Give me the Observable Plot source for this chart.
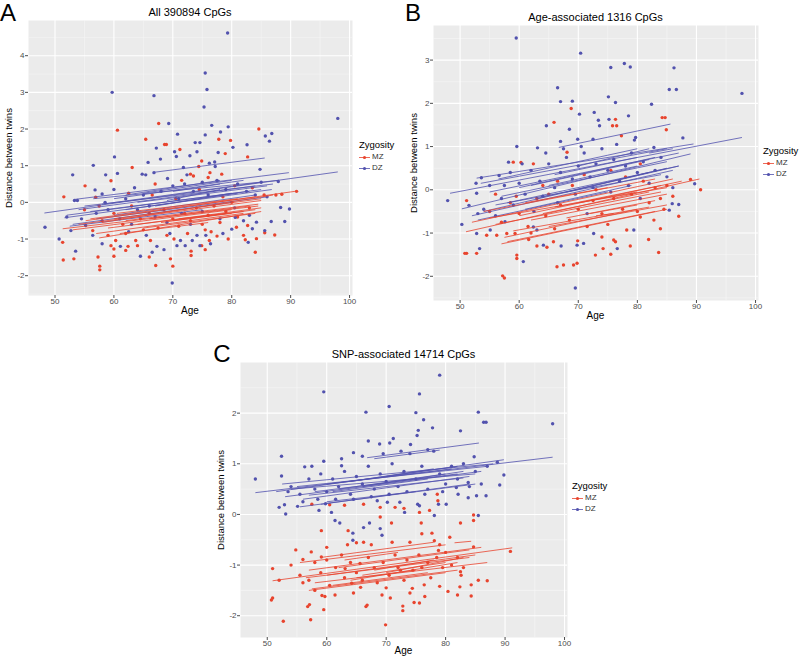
<!DOCTYPE html>
<html><head><meta charset="utf-8">
<script src="https://cdn.jsdelivr.net/npm/d3@7"></script>
<script src="https://cdn.jsdelivr.net/npm/@observablehq/plot@0.6"></script>
<style>
body{margin:0;background:#fff;font-family:Arial,"Liberation Sans",sans-serif;}
#root{position:relative;width:800px;height:657px;overflow:hidden;background:#fff;}
.t{position:absolute;white-space:nowrap;color:#000;line-height:1;}
.p{position:absolute;}
</style></head>
<body><div id="root"></div>
<script>
// ---------- shared tick values ----------
const xTicks = [50, 60, 70, 80, 90, 100];
const xMinor = [55, 65, 75, 85, 95];
const zygosity = ["MZ", "DZ"];

// ---------- Panel A: All 390894 CpGs ----------
const aDZ = [[79.3,4.62],[75.5,3.53],[75.8,3.08],[59.7,3.0],[66.8,2.91],[75.3,2.6],[98,2.29],[69.3,2.15],[76.6,2.1],[79.4,2.06],[78.1,1.92],[85.7,1.81],[86.8,1.88],[86.4,1.67],[70.8,1.86],[75.5,1.84],[73.8,1.63],[74.6,1.63],[82.6,1.57],[67.2,1.48],[74.1,1.38],[70.3,1.38],[77.7,1.36],[80.2,1.5],[70.6,1.25],[72.9,1.27],[60.1,1.24],[65.8,1.09],[67.9,1.18],[76.2,1.07],[56.5,1.01],[77.1,1.1],[77.2,0.98],[71.8,0.95],[66.8,0.81],[60.6,0.79],[53,0.75],[58.6,0.75],[64.8,0.77],[65.4,0.75],[72.4,0.75],[69.1,0.65],[84.8,0.9],[87.9,0.57],[89.8,-0.18],[89,-0.52],[88.3,-0.14],[86.7,-0.52],[85.6,-0.77],[84.2,-0.54],[82.8,-1.09],[83.5,-0.72],[80.6,-0.41],[80,-0.73],[76.4,-1.13],[74.6,-1.18],[75.6,-0.9],[74.1,-0.9],[73.3,-1.04],[72.1,-1.18],[71.3,-1.04],[70.7,-1.18],[69.9,-2.2],[68.5,-1.29],[67.3,-1.2],[66.5,-1.36],[64.5,-1.47],[61.1,-1.2],[58,-1.13],[56.4,-0.9],[55.2,-0.63],[53.5,-1.33],[50.7,-1.0],[48.3,-0.68],[52.7,-0.77],[53.3,0.05],[53.8,0.05],[56.8,0.34],[58,0.23],
[60,0.35],[62,0.1],[63.5,0.4],[65,0.2],[66,-0.1],[68,0.3],[70,0.45],[71,0.1],[72,0.5],[73.5,0.3],[75,0.55],[76,0.2],[77.5,0.6],[79,0.35],[81,0.5],[82.5,0.3],[84,0.2],[85,0.55],[86,0.15],[57,-0.3],[59,-0.2],[61,-0.45],[63,-0.6],[64,-0.2],[67,-0.4],[69,-0.55],[71.5,-0.3],[73,-0.6],[75,-0.25],[78,-0.45],[80.5,-0.15],[82,-0.5],[54.5,-0.45],[52,-0.4],[58.5,0.0],[62.5,-0.8],[65.5,-0.9],[69.5,-0.85],[78.5,-0.85],[83,-0.35]];
const aMZ = [[60.6,1.97],[67.6,2.15],[84.6,2.0],[65.4,1.72],[77.8,1.72],[79.8,1.69],[68.6,1.58],[68.9,1.58],[71.2,1.44],[78.9,1.33],[82.7,1.24],[74.9,1.13],[74.4,0.98],[63.1,0.95],[73,0.77],[73.5,0.72],[76.3,0.81],[78.3,0.77],[76,0.68],[59.5,0.59],[55.1,0.45],[87.3,-0.89],[85.6,-0.83],[84.2,-0.99],[84,-1.36],[82.7,-0.63],[82.3,-1.02],[82,-0.9],[80.8,-0.68],[79.4,-1.0],[77.5,-0.92],[76.2,-1.04],[75.5,-1.29],[74.9,-1.18],[73.1,-1.33],[73.1,-1.45],[70.2,-1.0],[69.6,-1.54],[70,-1.74],[67.1,-1.72],[66.2,-1.04],[66,-1.49],[64,-1.18],[63.7,-1.04],[62.4,-1.2],[62,-1.31],[60,-1.47],[60,-1.27],[59.5,-1.18],[60.3,-1.04],[57.6,-1.74],[57.6,-1.84],[57.3,-1.49],[56.4,-0.77],[53.2,-1.54],[51.4,-1.57],[51.3,-1.09],[51.5,0.15],[56.9,0.14],[91,0.3],[85.5,0.2],[87.5,0.2],[88.5,0.22],
[55,-0.2],[58,-0.5],[60,-0.3],[61.5,-0.6],[63,-0.1],[64.5,-0.45],[66,-0.3],[67.5,-0.7],[68.5,-0.2],[70,-0.45],[71,-0.65],[72,-0.3],[73,-0.5],[74,-0.15],[75,-0.6],[76,-0.35],[77,-0.1],[78,-0.55],[79,-0.25],[80,0.0],[81,-0.4],[83,-0.15],[62,-0.85],[65,-0.75],[69,-0.9],[72.5,-0.85],[75.5,-0.75],[59,-0.9],[66.5,0.2],[70.5,0.1],[74.5,0.35],[78.5,0.15],[62.5,0.25],[57.5,-0.1],[67,0.5],[71.5,0.6],[80.5,0.45],[83.5,0.4],[76.5,-0.8]];
const aDZLines = [[48.2,-0.29,98.0,0.83],[66.8,0.82,85.6,1.21],[53.3,0.08,89.7,0.81],[56.5,0.1,88.0,0.6],[51.6,-0.42,86.8,0.35],[52.0,-0.35,85.0,0.35],[54.0,-0.2,84.0,0.45],[55.0,-0.1,87.0,0.5],[56.0,-0.25,83.0,0.3],[58.0,-0.05,85.0,0.55],[60.0,0.1,82.0,0.6],[62.0,0.2,78.0,0.6],[65.0,0.25,80.0,0.6],[53.0,-0.6,80.0,0.0],[57.0,-0.45,86.0,0.15],[60.0,-0.35,84.0,0.2],[62.0,-0.2,81.0,0.25],[64.0,0.0,86.0,0.45],[67.0,-0.1,80.0,0.25],[69.0,0.05,78.0,0.35],[70.0,0.3,78.0,0.5],[52.5,-0.65,75.0,-0.2]];
const aMZLines = [[51.3,-0.72,84.5,-0.1],[55.2,-0.5,90.7,0.3],[57.5,-0.97,85.0,-0.25],[57.0,-0.85,82.0,-0.3],[54.0,-0.6,85.0,0.05],[56.0,-0.45,84.0,0.15],[53.0,-0.75,80.0,-0.2],[58.0,-0.55,87.0,0.2],[60.0,-0.45,85.0,0.1],[62.0,-0.5,84.5,-0.05],[64.0,-0.6,85.0,-0.15],[66.0,-0.45,83.0,-0.1],[68.0,-0.55,84.0,-0.2],[70.0,-0.5,80.0,-0.3],[71.0,-0.45,82.0,-0.25],[59.0,-0.7,79.0,-0.3],[61.0,-0.85,76.0,-0.55],[65.0,-0.7,84.0,-0.3],[60.5,-0.3,81.0,0.1]];
const aYTicks = [-2, -1, 0, 1, 2, 3, 4];
const aYMinor = [-2.5, -1.5, -0.5, 0.5, 1.5, 2.5, 3.5, 4.5];

// ---------- Panel B: Age-associated 1316 CpGs ----------
const bDZ = [[59.5,3.51],[70.4,3.16],[77.8,2.92],[78.8,2.84],[75.5,2.83],[86.2,2.82],[97.7,2.23],[66.5,2.36],[85.4,2.32],[86.6,2.32],[75.1,2.15],[67,2.04],[69,2.05],[76.3,2.02],[82.4,1.98],[70.2,1.75],[72.7,1.79],[73.4,1.61],[75.2,1.63],[78.5,1.71],[73.6,1.48],[64.6,1.48],[68.5,1.4],[59.6,1.0],[63.1,0.97],[67,1.12],[69.9,1.17],[72.5,1.17],[79.7,1.21],[82.8,0.98],[87.7,1.2],[58.2,0.64],[53.6,0.28],[56.6,0.33],[52.7,0.15],[52.8,-0.08],[47.9,-0.25],[50.3,-0.8],[51.5,-0.36],[52.8,-1.01],[53.3,-1.36],[55.1,-0.93],[57.6,-0.74],[62.4,-0.86],[63,-0.93],[64.1,-1.28],[60.7,-1.66],[67.1,-1.3],[69.8,-1.28],[70.9,-1.24],[79.4,-0.93],[85.9,-0.32],[87,-0.34],[85.4,-0.47],[89.7,0.14],[69.5,-2.27],[76.6,-1.36],[71.5,-0.55],[72.6,-1.01],
[55,0.1],[57,-0.2],[58.5,0.4],[60,0.15],[61,-0.1],[62,0.45],[63.5,0.2],[65,0.6],[66,0.05],[67,0.4],[68,0.75],[69,0.25],[70,0.55],[71,0.85],[72,0.3],[73,0.6],[74,0.95],[75,0.45],[76,0.7],[77,0.2],[78,0.55],[79,0.85],[80,0.4],[81,0.65],[82,0.15],[83,0.45],[84,0.75],[85,0.3],[86,0.05],[54,-0.45],[56,-0.6],[59,-0.35],[62.5,-0.5],[64,-0.15],[66.5,-0.3],[69.5,-0.1],[72.5,0.05],[75.5,-0.05],[78.5,0.1],[80.5,-0.2],[53,-0.55],[57.5,0.1],[60.5,0.6],[64.5,0.85],[67.5,0.95],[70.5,1.0],[76.5,1.05],[79.5,1.15]];
const bMZ = [[59.0,0.64],[60.3,0.63],[65.9,1.56],[68.8,1.88],[76.3,1.63],[75.8,1.48],[76.5,1.48],[77.3,1.25],[84.2,1.67],[84.7,1.67],[84.9,1.39],[68.1,0.87],[62.4,0.6],[51.1,-0.25],[50.8,-1.47],[51.1,-1.47],[52.8,-1.47],[59.6,-1.51],[59.6,-1.59],[57.2,-1.99],[57.5,-2.04],[54.5,-1.05],[56.2,-1.05],[57.9,-1.01],[59.3,-1.01],[61.6,-1.15],[63,-1.3],[64.7,-1.33],[65.8,-1.2],[66.4,-1.78],[67.5,-1.74],[69.2,-1.74],[69.8,-1.7],[69.9,-1.18],[72.9,-1.51],[74.0,-1.09],[74.2,-1.36],[75.5,-1.49],[76,-1.16],[76.3,-1.2],[78.2,-0.93],[78.8,-1.3],[80.5,-0.63],[81.9,-1.15],[83.6,-1.45],[83.9,-0.9],[82.8,-0.7],[87,-0.61],[90.7,0.0],[89,0.24],[85,0.1],[83.9,-0.2],
[55,-0.5],[57,-0.75],[58.5,-0.3],[60,-0.55],[61.5,-0.85],[63,-0.2],[64.5,-0.6],[66,-0.9],[67,-0.35],[68.5,-0.7],[70,-0.45],[71.5,-0.85],[72.5,-0.25],[74,-0.55],[75,-0.8],[76,-0.2],[77.5,-0.45],[79,-0.1],[80,-0.5],[81,0.2],[82,-0.3],[83,0.05],[84.5,-0.45],[86,-0.15],[62,-1.0],[65,-0.1],[69,0.1],[73,0.0],[78,0.3],[80.5,0.6],[56,-0.1],[59.5,-0.15],[66.5,0.2],[71,0.35],[75.5,0.45],[64,0.1]];
const bDZLines = [[48.3,-0.08,97.7,1.21],[66.7,0.98,85.6,1.52],[52.8,0.27,89.5,1.06],[50.3,-0.44,89.0,0.83],[53.5,0.15,85.0,0.95],[55.0,-0.05,87.0,0.85],[56.5,0.25,80.0,0.95],[52.0,-0.6,86.0,0.45],[54.0,-0.5,87.0,0.55],[57.0,-0.15,85.0,0.65],[60.0,0.05,83.0,0.75],[62.0,0.1,82.0,0.7],[56.0,-0.35,84.0,0.35],[58.0,-0.3,87.0,0.55],[63.0,-0.2,82.0,0.4],[65.0,0.1,80.0,0.55],[68.0,-0.05,85.0,0.5],[53.0,-0.7,75.0,-0.05],[61.0,-0.45,79.0,0.1],[66.0,0.35,80.0,0.75],[70.0,0.55,82.0,0.95],[82.0,0.85,86.0,0.95]];
const bMZLines = [[51.0,-0.97,90.5,0.25],[52.0,-0.75,86.0,0.25],[55.0,-0.65,85.0,0.05],[57.0,-1.25,85.0,-0.45],[58.0,-1.2,83.0,-0.5],[57.5,-1.1,80.0,-0.45],[54.0,-0.5,83.0,0.25],[56.0,-0.8,84.0,-0.05],[60.0,-0.6,87.5,0.2],[62.0,-0.7,85.0,-0.1],[64.0,-0.55,82.0,-0.05],[66.0,-0.4,84.0,0.1],[68.0,-0.65,83.0,-0.25],[70.0,-0.3,80.0,-0.05],[72.0,-0.55,80.0,-0.35],[59.0,-0.95,82.0,-0.4],[61.0,-0.3,75.0,0.05],[65.0,-0.85,85.0,-0.35],[73.0,-0.6,76.0,-0.55]];
const bYTicks = [-2, -1, 0, 1, 2, 3];
const bYMinor = [-2.5, -1.5, -0.5, 0.5, 1.5, 2.5, 3.5];

// ---------- Panel C: SNP-associated 14714 CpGs ----------
const cDZ = [[79,2.75],[59.5,2.42],[75.6,2.38],[70.5,2.13],[66.6,2.02],[75,2.01],[85.5,2.02],[98,1.79],[86.4,1.82],[86.8,1.82],[76.3,1.87],[75.4,1.66],[77.8,1.71],[75.2,1.56],[82.5,1.65],[71.2,1.5],[70.6,1.41],[68.9,1.39],[74.1,1.38],[52.4,1.15],[67,1.45],[64.5,1.22],[84.8,1.14],[88.7,1.03],[89.8,0.78],[89.1,0.58],[48,0.7],[52.4,0.76],[56.3,0.94],[62.5,0.96],[52,0.14],[53.1,0.01],[52.9,0.19],[55.1,0.16],[58.7,0.08],[59.8,0.21],[60.8,0.04],[61.4,-0.12],[62.2,-0.17],[64.4,-0.37],[64.4,-0.51],[66.2,-0.26],[67.2,-0.17],[69,-0.28],[69.3,-0.41],[68.5,0.27],[70.2,0.24],[72.3,0.24],[73.1,0.04],[75.3,0.2],[75.6,0.17],[78.1,-0.02],[78.8,0.2],[80.1,0.2],[82.1,0.4],[83.8,0.33],[85.2,0.37],[85.5,-0.02],[86.8,0.37],[83.8,0.63],[81.8,0.53],
[54,0.55],[55.5,0.4],[57,0.7],[58,0.5],[59,0.8],[60,0.45],[61,0.7],[62,0.55],[63,0.85],[64,0.4],[65,0.75],[66,0.6],[67,0.95],[68,0.5],[69,0.8],[70,0.65],[71,1.0],[72,0.55],[73,0.85],[74,1.2],[75,0.7],[76,0.95],[77,0.5],[78,1.25],[79,0.8],[80,0.6],[81,0.95],[82,0.7],[83,1.0],[84,0.55],[85,0.85],[86,0.6],[87,0.95],[56,0.25],[58.5,0.3],[61.5,0.3],[64.5,0.3],[67.5,0.35],[70.5,0.4],[73.5,0.45],[76.5,0.4],[79.5,0.45],[62.5,1.1],[66,1.15],[69.5,1.2],[72.5,1.25],[77,1.28],[59.5,1.05],[57.5,0.95],[53.5,0.45]];
const cMZ = [[90.9,-0.73],[50.9,-1.07],[50.9,-1.65],[50.7,-1.69],[52.7,-2.11],[54.8,-0.7],[56,-1.35],[56.8,-1.82],[57.1,-1.78],[57.3,-2.08],[59.1,-0.32],[59.2,-1.6],[59.7,-1.62],[59.5,-1.88],[61.4,-1.59],[56,-0.89],[57.4,-0.74],[59.1,-0.84],[63.6,-0.32],[63.1,-1.07],[65,-0.56],[66.2,-0.55],[64.2,-1.36],[65.7,-1.44],[66.6,-1.82],[65.6,-0.97],[66.8,-1.79],[69,0.14],[69,-0.05],[70.9,-0.17],[69.3,-1.59],[69.9,-2.18],[70.7,-1.65],[72.4,-1.1],[72.8,-1.81],[72.8,-1.9],[74.4,-1.46],[75.6,0.04],[75.9,-0.17],[76,-0.38],[76.4,-1.39],[77.3,0.08],[77.7,-0.37],[78.1,-0.52],[78.8,-0.71],[78.6,0.4],[76.5,-1.62],[75.6,-1.75],[74.7,-1.74],[79,-1.42],[80.7,-0.45],[80.4,-1.52],[82,-1.59],[82.4,-1.43],[82.5,-1.13],[82.6,-1.2],[82.5,-0.17],[84.3,-1.61],[84.3,-1.39],[84.7,-0.01],[84.7,-0.12],[84.7,-0.64],[85.5,-1.3],[87,-1.31],
[57.5,0.2],[60.5,0.19],[63,0.18],[66.2,0.2],[71.5,0.14],[73,0.12],[78.7,0.27],
[52,-1.3],[54,-1.0],[55.5,-1.2],[57,-1.3],[58,-0.95],[59,-1.15],[60,-0.9],[60.5,-1.4],[61.5,-1.05],[62.5,-0.8],[63,-1.25],[64,-0.95],[65,-1.15],[66,-1.3],[67,-0.85],[68,-1.05],[68.5,-1.35],[69.5,-0.95],[70.5,-1.2],[71.5,-0.8],[72,-1.05],[73,-1.3],[73.5,-0.9],[74.5,-1.1],[75.5,-0.8],[76,-1.05],[77,-0.95],[77.5,-1.25],[78.5,-0.85],[79.5,-1.05],[80,-0.75],[81,-1.0],[82,-0.85],[83,-1.05],[60,-0.65],[63.5,-0.6],[67.5,-0.6],[71,-0.55],[74,-0.55],[79,-0.6],[70,-1.45],[74,-1.55],[58,-1.5],[64.5,-1.55]];
const cDZLines = [[48.0,0.43,98.0,1.13],[66.8,1.12,85.6,1.41],[68.0,1.1,79.0,1.27],[51.5,0.45,89.8,1.08],[52.5,0.6,88.0,1.0],[55.0,0.55,87.0,0.95],[53.0,0.35,86.0,0.85],[54.0,0.5,85.0,0.8],[56.0,0.3,84.0,0.75],[55.5,0.15,85.0,0.6],[58.0,0.45,82.0,0.8],[60.0,0.6,81.0,0.9],[57.0,0.38,83.0,0.72],[62.0,0.5,80.0,0.8],[59.0,0.2,84.0,0.6],[64.0,0.65,78.0,0.9],[61.0,0.45,77.0,0.7],[66.0,0.55,83.0,0.85],[70.0,0.75,82.0,0.95],[60.0,0.25,75.0,0.45]];
const cMZLines = [[50.9,-1.31,91.2,-0.66],[55.5,-0.95,80.0,-0.6],[57.0,-1.1,86.0,-0.65],[56.5,-1.25,84.0,-0.85],[58.0,-1.35,87.0,-0.95],[57.5,-1.47,82.0,-1.1],[57.0,-1.5,80.0,-1.15],[59.0,-0.85,78.0,-0.55],[60.0,-1.2,85.0,-0.8],[62.0,-1.05,84.0,-0.7],[64.0,-1.3,82.0,-0.95],[65.0,-1.25,75.0,-1.1],[66.0,-1.2,80.0,-0.95],[68.0,-1.1,78.0,-0.9],[70.0,-1.15,83.0,-0.85],[61.0,-1.4,77.0,-1.15],[81.5,-0.56,84.3,-0.53],[63.0,-0.9,72.0,-0.75]];
const cYTicks = [-2, -1, 0, 1, 2];
const cYMinor = [-1.5, -0.5, 0.5, 1.5, 2.5];

// ---------- styling ----------
const RED = "#e8442e", BLUE = "#5252ae";
const root = document.getElementById("root");

function text(s, x, y, css, rot) {
  const d = document.createElement("div");
  d.className = "t";
  d.textContent = s;
  d.style.left = x + "px";
  d.style.top = y + "px";
  d.style.transform = "translate(-50%,-50%)" + (rot ? " rotate(" + rot + "deg)" : "");
  Object.assign(d.style, css || {});
  root.appendChild(d);
}

const pts = arr => arr.map(([age, d]) => ({age, d}));
const segs = arr => arr.map(([x1, y1, x2, y2]) => ({x1, y1, x2, y2}));

function panel(p) {
  const plot = Plot.plot({
    width: p.w, height: p.h,
    marginLeft: p.ml, marginRight: p.mr, marginTop: p.mt, marginBottom: p.mb,
    x: {domain: p.xd},
    y: {domain: p.yd},
    style: {fontFamily: "Arial, 'Liberation Sans', sans-serif", fontSize: "8px", background: "transparent", overflow: "visible"},
    marks: [
      Plot.frame({fill: "#ebebeb", stroke: null}),
      Plot.ruleX(xMinor, {stroke: "#f6f6f6", strokeWidth: 0.6}),
      Plot.ruleY(p.yMinor, {stroke: "#f6f6f6", strokeWidth: 0.6, clip: true}),
      Plot.ruleX(xTicks, {stroke: "#ffffff", strokeWidth: 1.1}),
      Plot.ruleY(p.yTicks, {stroke: "#ffffff", strokeWidth: 1.1}),
      Plot.dot(pts(p.mz), {x: "age", y: "d", r: 1.7, fill: RED, clip: true}),
      Plot.dot(pts(p.dz), {x: "age", y: "d", r: 1.7, fill: BLUE, clip: true}),
      Plot.link(segs(p.dzL), {x1: "x1", y1: "y1", x2: "x2", y2: "y2", stroke: BLUE, strokeWidth: 0.8, clip: true}),
      Plot.link(segs(p.mzL), {x1: "x1", y1: "y1", x2: "x2", y2: "y2", stroke: RED, strokeWidth: 0.8, clip: true}),
      Plot.axisX({ticks: xTicks, tickSize: 3, tickPadding: 0, label: null, tickFormat: d => String(d), color: "#4d4d4d"}),
      Plot.axisY({ticks: p.yTicks, tickSize: 3, tickPadding: 1, label: null, tickFormat: d => String(d), color: "#4d4d4d"})
    ]
  });
  plot.classList.add("p");
  plot.style.left = p.left + "px";
  plot.style.top = p.top + "px";
  root.appendChild(plot);

  const fx0 = p.left + p.ml, fx1 = p.left + p.w - p.mr;
  const fy0 = p.top + p.mt, fy1 = p.top + p.h - p.mb;
  const cx = (fx0 + fx1) / 2, cy = (fy0 + fy1) / 2;
  text(p.title, cx, fy0 - 8, {fontSize: "11px"});
  text(p.letter, p.lx, p.ly, {fontSize: "24px"});
  text("Age", cx, fy1 + p.ageOff, {fontSize: "10px"});
  text("Distance between twins", p.left + p.ml - 19, cy, {fontSize: "9.5px"}, -90);

  // legend
  const lg = document.createElement("div");
  lg.className = "t";
  lg.style.left = p.legX + "px";
  lg.style.top = p.legY + "px";
  let html = '<div style="font-size:9.5px;margin-bottom:2px">Zygosity</div>';
  const cols = {MZ: RED, DZ: BLUE};
  zygosity.forEach(z => {
    html += '<div style="display:flex;align-items:center;height:11px;font-size:8px;color:#333">' +
      '<svg width="11" height="9" style="margin-right:2px"><line x1="0" y1="4.5" x2="11" y2="4.5" stroke="' + cols[z] + '" stroke-width="0.8"/>' +
      '<circle cx="5.5" cy="4.5" r="1.6" fill="' + cols[z] + '"/></svg>' + z + '</div>';
  });
  lg.innerHTML = html;
  root.appendChild(lg);
}

panel({title: "All 390894 CpGs", letter: "A", lx: 8, ly: 13,
  left: 0, top: 0, w: 356, h: 313, ml: 28, mr: 4, mt: 20, mb: 18, ageOff: 16,
  xd: [45.5, 100.5], yd: [-2.54, 4.96], yTicks: aYTicks, yMinor: aYMinor,
  mz: aMZ, dz: aDZ, mzL: aMZLines, dzL: aDZLines, legX: 359, legY: 140});

panel({title: "Age-associated 1316 CpGs", letter: "B", lx: 413, ly: 13,
  left: 400, top: 0, w: 362, h: 318, ml: 33, mr: 4, mt: 25, mb: 18, ageOff: 16,
  xd: [45.5, 100.5], yd: [-2.56, 3.8], yTicks: bYTicks, yMinor: bYMinor,
  mz: bMZ, dz: bDZ, mzL: bMZLines, dzL: bDZLines, legX: 763, legY: 146});

panel({title: "SNP-associated 14714 CpGs", letter: "C", lx: 222, ly: 354,
  left: 200, top: 330, w: 371, h: 325, ml: 40, mr: 4, mt: 32, mb: 18, ageOff: 14,
  xd: [45.5, 100.5], yd: [-2.43, 3.0], yTicks: cYTicks, yMinor: cYMinor,
  mz: cMZ, dz: cDZ, mzL: cMZLines, dzL: cDZLines, legX: 572, legY: 481});
</script>
</body></html>
